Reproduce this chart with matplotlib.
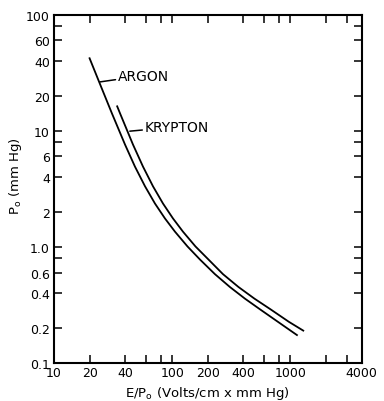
import matplotlib
matplotlib.use("Agg")
import matplotlib.pyplot as plt
from matplotlib.ticker import FixedLocator, FixedFormatter, NullLocator

# Data
argon_e = [20, 24.5, 30.9, 39.9, 48.4, 58.9, 71.5, 86.9, 105.6, 134.7, 172,
           230, 308, 413, 553, 786, 1137]
argon_p = [42.0, 25.2, 14.1, 7.59, 4.91, 3.32, 2.36, 1.755, 1.351, 1.008, 0.777,
           0.582, 0.451, 0.358, 0.290, 0.226, 0.174]
krypton_e = [34.25, 36.2, 46.6, 56.6, 68.8, 83.6, 101.6, 123.4, 157.4, 203,
             269, 364, 497, 679, 973, 1286]
krypton_p = [16.2, 14.1, 7.59, 4.91, 3.32, 2.36, 1.755, 1.351, 1.008, 0.777,
             0.582, 0.451, 0.358, 0.290, 0.226, 0.190]

x_ticks = [10, 20, 40, 60, 80, 100, 200, 400, 600, 800, 1000, 2000, 3000, 4000]
x_labels = ["10", "20", "40", "", "", "100", "200", "400", "", "", "1000", "", "", "4000"]
y_ticks = [0.1, 0.2, 0.4, 0.6, 0.8, 1, 2, 4, 6, 8, 10, 20, 40, 60, 80, 100]
y_labels = ["0.1", "0.2", "0.4", "0.6", "", "1.0", "2", "4", "6", "", "10", "20", "40", "60", "", "100"]

plt.rcParams['font.family'] = ['DejaVu Sans']

fig = plt.figure(figsize=(3.84, 4.02), dpi=100)
ax = fig.add_axes([54/384, 38/402, 307.5/384, 348.5/402])

ax.plot(argon_e, argon_p, color='black', lw=1.3, solid_joinstyle='round')
ax.plot(krypton_e, krypton_p, color='black', lw=1.3, solid_joinstyle='round')

ax.set_xscale('log')
ax.set_yscale('log')
ax.set_xlim(10, 4000)
ax.set_ylim(0.1, 100)

ax.xaxis.set_major_locator(FixedLocator(x_ticks))
ax.xaxis.set_major_formatter(FixedFormatter(x_labels))
ax.yaxis.set_major_locator(FixedLocator(y_ticks))
ax.yaxis.set_major_formatter(FixedFormatter(y_labels))
ax.xaxis.set_minor_locator(NullLocator())
ax.yaxis.set_minor_locator(NullLocator())

ax.tick_params(which='major', direction='in', length=6, width=1.1,
               top=True, right=True, labelsize=9)
ax.tick_params(axis='x', pad=2.5)
ax.tick_params(axis='y', pad=3)
for s in ax.spines.values():
    s.set_linewidth(1.5)

ax.set_xlabel(r'E/P$_\mathregular{o}$ (Volts/cm x mm Hg)', fontsize=9.5, labelpad=3)
ax.set_ylabel(r'P$_\mathregular{o}$ (mm Hg)', fontsize=9.5, labelpad=4)
ax.yaxis.set_label_coords(-0.099, 0.54)

ax.annotate('ARGON', xy=(24.6, 26.3), xytext=(35, 29.8), textcoords='data',
            fontsize=10, ha='left', va='center',
            arrowprops=dict(arrowstyle='-', lw=1.1, color='black', shrinkA=0, shrinkB=0))
ax.annotate('KRYPTON', xy=(43.8, 9.9), xytext=(59, 10.8), textcoords='data',
            fontsize=10, ha='left', va='center',
            arrowprops=dict(arrowstyle='-', lw=1.1, color='black', shrinkA=0, shrinkB=0))

fig.savefig('out.png', dpi=100)
